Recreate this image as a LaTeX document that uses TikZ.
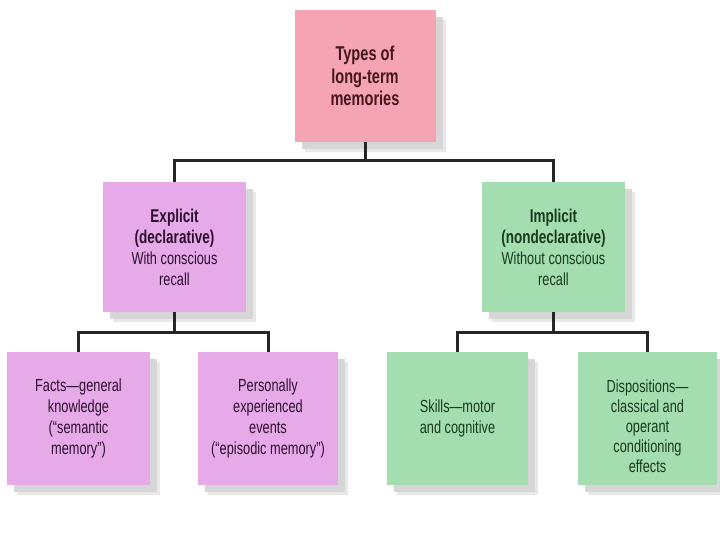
\documentclass[tikz,border=0pt]{standalone}
\usepackage{fontspec}
\setmainfont{Liberation Sans}[FakeStretch=0.73]
\usetikzlibrary{shadows}
\definecolor{pinkbox}{RGB}{245,164,180}
\definecolor{lilacbox}{RGB}{230,170,232}
\definecolor{greenbox}{RGB}{164,222,176}
\definecolor{pinktext}{RGB}{70,22,30}
\definecolor{lilactext}{RGB}{44,14,46}
\definecolor{greentext}{RGB}{24,58,30}
\tikzset{
  box/.style={rectangle, inner sep=0pt, align=center, font=\fontsize{17.5}{21}\selectfont,
    general shadow={fill=gray!18, shadow xshift=10pt, shadow yshift=-10pt},
    general shadow={fill=gray!32, shadow xshift=7pt, shadow yshift=-7pt}},
  pinkb/.style={box, fill=pinkbox, text=pinktext},
  lilacb/.style={box, fill=lilacbox, text=lilactext},
  greenb/.style={box, fill=greenbox, text=greentext},
  btext/.style={inner sep=0pt, align=center, font=\fontsize{17.5}{20}\selectfont},
  conn/.style={line width=3pt, draw=black!85}
}
\begin{document}
\begin{tikzpicture}[x=1pt,y=-1pt]
\useasboundingbox (0,0) rectangle (720,540);
\node[pinkb, minimum width=141pt, minimum height=132pt, font=\fontsize{20}{22.5}\selectfont\bfseries] (top) at (365,76) {Types of\\long-term\\memories};
\node[lilacb, minimum width=143pt, minimum height=130pt] (ml) at (174.5,247) {\textbf{\fontsize{18.5}{21.5}\selectfont Explicit}\\\textbf{\fontsize{18.5}{21.5}\selectfont (declarative)}\\With conscious\\recall};
\node[greenb, minimum width=143pt, minimum height=130pt] (mr) at (553.5,247) {\textbf{\fontsize{18.5}{21.5}\selectfont Implicit}\\\textbf{\fontsize{18.5}{21.5}\selectfont (nondeclarative)}\\Without conscious\\recall};
\node[lilacb, minimum width=143pt, minimum height=133pt] (b1) at (78.5,418.5) {Facts—general\\knowledge\\(“semantic\\memory”)};
\node[lilacb, minimum width=140pt, minimum height=133pt] (b2) at (268,418.5) {Personally\\experienced\\events\\(“episodic memory”)};
\node[greenb, minimum width=141pt, minimum height=133pt] (b3) at (457.5,418.5) {Skills—motor\\and cognitive};
\node[greenb, minimum width=139pt, minimum height=133pt] (b4) at (647.5,418.5) {};
\node[btext, text=greentext] (b4t) at (647.5,426) {Dispositions—\\classical and\\operant\\conditioning\\effects};
\draw[conn] (top.south) -- ++(0,18) -| (ml.north);
\draw[conn] (top.south) -- ++(0,18) -| (mr.north);
\draw[conn] (ml.south) -- ++(0,20) -| (b1.north);
\draw[conn] (ml.south) -- ++(0,20) -| (b2.north);
\draw[conn] (mr.south) -- ++(0,20) -| (b3.north);
\draw[conn] (mr.south) -- ++(0,20) -| (b4.north);
\end{tikzpicture}
\end{document}
